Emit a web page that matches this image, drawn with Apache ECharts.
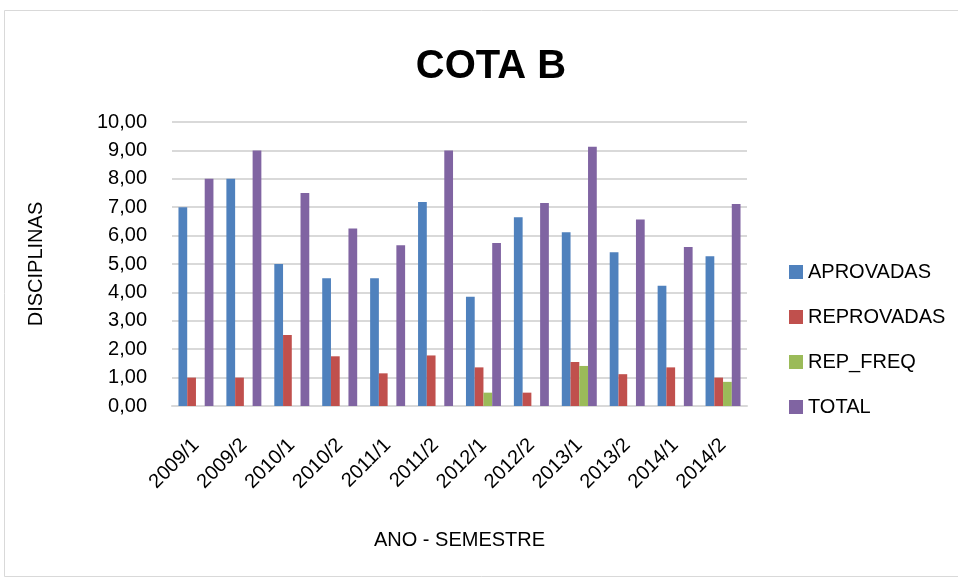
<!DOCTYPE html>
<html>
<head>
<meta charset="utf-8">
<script src="https://cdn.jsdelivr.net/npm/echarts@6/dist/echarts.min.js"></script>
<style>
  html, body { margin: 0; padding: 0; background: #fff; }
  #chart { width: 958px; height: 581px; }
</style>
</head>
<body>
<div id="chart"></div>
<script>
// data
var categories = ['2009/1', '2009/2', '2010/1', '2010/2', '2011/1', '2011/2',
                  '2012/1', '2012/2', '2013/1', '2013/2', '2014/1', '2014/2'];
var aprovadas   = [7.0, 8.0, 5.0, 4.5, 4.5, 7.18, 3.85, 6.65, 6.12, 5.41, 4.23, 5.27];
var reprovadas  = [1.0, 1.0, 2.5, 1.75, 1.15, 1.78, 1.36, 0.47, 1.55, 1.12, 1.36, 1.0];
var repFreq     = [0, 0, 0, 0, 0, 0, 0.47, 0, 1.41, 0, 0, 0.85];
var total       = [8.0, 9.0, 7.5, 6.25, 5.66, 9.0, 5.74, 7.15, 9.13, 6.57, 5.6, 7.11];
var seriesNames = ['APROVADAS', 'REPROVADAS', 'REP_FREQ', 'TOTAL'];
var colors = ['#4F81BD', '#C0504D', '#9BBB59', '#8064A2'];

var font = 'Liberation Sans';
var chart = echarts.init(document.getElementById('chart'));

function bar(name, data, i) {
  return {
    name: name,
    type: 'bar',
    data: data,
    barGap: 0,
    barCategoryGap: '27%',
    itemStyle: { color: colors[i] },
    animation: false
  };
}

var option = {
  backgroundColor: '#fff',
  graphic: [{
    type: 'rect',
    shape: { x: 4.5, y: 10.5, width: 960, height: 566 },
    style: { fill: 'none', stroke: '#d9d9d9', lineWidth: 1 },
    silent: true
  }],
  title: {
    text: 'COTA B',
    left: 486,
    textAlign: 'center',
    top: 42,
    textStyle: {
      fontFamily: font,
      fontWeight: 'bold',
      fontSize: 40,
      color: '#000'
    }
  },
  legend: {
    orient: 'vertical',
    left: 784,
    top: 257,
    icon: 'rect',
    itemWidth: 14,
    itemHeight: 14,
    itemGap: 25,
    data: seriesNames,
    textStyle: { fontFamily: font, fontSize: 20, color: '#000' }
  },
  grid: { left: 172, right: 211, top: 122, bottom: 175 },
  xAxis: {
    type: 'category',
    data: categories,
    name: 'ANO - SEMESTRE',
    nameLocation: 'middle',
    nameGap: 124,
    nameTextStyle: { fontFamily: font, fontSize: 20, color: '#000' },
    axisLine: { lineStyle: { color: '#d9d9d9', width: 2 } },
    axisTick: { show: false },
    axisLabel: {
      interval: 0,
      rotate: 45,
      margin: 36,
      fontFamily: font,
      fontSize: 20,
      color: '#000'
    }
  },
  yAxis: {
    type: 'value',
    min: 0,
    max: 10,
    interval: 1,
    name: 'DISCIPLINAS',
    nameLocation: 'middle',
    nameGap: 126,
    nameTextStyle: { fontFamily: font, fontSize: 20, color: '#000' },
    axisLine: { show: false },
    axisTick: { show: false },
    splitLine: { lineStyle: { color: '#d9d9d9', width: 2 } },
    axisLabel: {
      margin: 25,
      fontFamily: font,
      fontSize: 20,
      color: '#000',
      formatter: function (v) { return v.toFixed(2).replace('.', ','); }
    }
  },
  series: [
    bar(seriesNames[0], aprovadas, 0),
    bar(seriesNames[1], reprovadas, 1),
    bar(seriesNames[2], repFreq, 2),
    bar(seriesNames[3], total, 3)
  ]
};
chart.setOption(option);
</script>
</body>
</html>
